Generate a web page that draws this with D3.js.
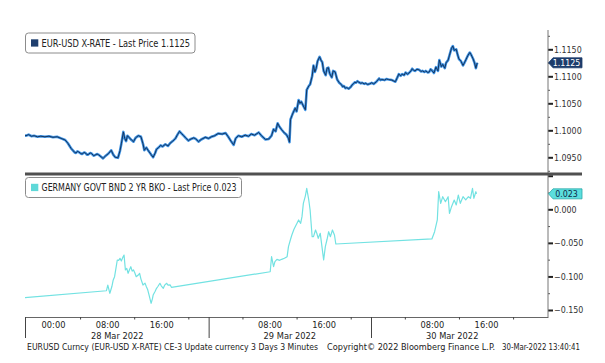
<!DOCTYPE html>
<html>
<head>
<meta charset="utf-8">
<script src="https://d3js.org/d3.v7.min.js"></script>
<style>
  body { margin: 0; background: #fff; }
  text { font-family: "DejaVu Sans Condensed", "DejaVu Sans", sans-serif; }
</style>
</head>
<body>
<div id="chart"></div>
<script>
// hours since 28 Mar 2022 00:00, EUR-USD price
var eurusd = [
  [-4.4, 1.0991], [-4.0, 1.0990], [-3.6, 1.0992], [-3.2, 1.0989], [-2.8, 1.0990], [-2.3, 1.0988],
  [-1.8, 1.0989], [-1.2, 1.0988], [-0.6, 1.0989], [0.0, 1.0987], [0.6, 1.0988], [1.2, 1.0985],
  [1.8, 1.0982], [2.2, 1.0976], [2.5, 1.0970], [2.7, 1.0966], [3.0, 1.0962], [3.2, 1.0959], [3.4, 1.0958],
  [3.6, 1.0961], [3.8, 1.0960], [4.1, 1.0957], [4.3, 1.0956], [4.6, 1.0959], [4.8, 1.0958], [5.0, 1.0955],
  [5.2, 1.0955], [5.5, 1.0958], [5.7, 1.0957], [6.0, 1.0953], [6.2, 1.0954], [6.5, 1.0956], [6.7, 1.0955],
  [7.1, 1.0951], [7.4, 1.0948], [7.8, 1.0953], [8.2, 1.0957], [8.6, 1.0963], [8.9, 1.0955],
  [9.2, 1.0950], [9.6, 1.0949], [9.9, 1.0962], [10.1, 1.0975], [10.4, 1.0997], [10.6, 1.0985],
  [10.8, 1.0980], [11.0, 1.0990], [11.3, 1.0986], [11.6, 1.0982], [11.9, 1.0979], [12.2, 1.0986],
  [12.6, 1.0990], [13.0, 1.0988], [13.3, 1.0975], [13.5, 1.0963], [13.8, 1.0968], [14.1, 1.0962],
  [14.5, 1.0955], [14.8, 1.0950], [15.1, 1.0958], [15.3, 1.0965], [15.6, 1.0968], [15.9, 1.0972],
  [16.2, 1.0970], [16.6, 1.0974], [17.0, 1.0971], [17.3, 1.0976], [17.7, 1.0980], [18.1, 1.0985],
  [18.4, 1.0992], [18.7, 1.0998], [19.0, 1.0994], [19.3, 1.0990], [19.6, 1.0986], [20.0, 1.0981],
  [20.4, 1.0984], [20.8, 1.0986], [21.1, 1.0984], [21.5, 1.0979], [21.9, 1.0983], [22.5, 1.0987],
  [23.0, 1.0985], [23.4, 1.0988], [23.9, 1.0990], [24.4, 1.0994], [25.0, 1.0993], [25.5, 1.0995],
  [25.9, 1.0988], [26.3, 1.0980], [26.7, 1.0973], [27.0, 1.0985], [27.4, 1.0990], [27.9, 1.0988],
  [28.4, 1.0991], [28.9, 1.0989], [29.3, 1.0993], [29.8, 1.0991], [30.4, 1.0996], [30.8, 1.0990],
  [31.4, 1.0983], [31.9, 1.0984], [32.3, 1.0990], [32.6, 1.1002], [32.9, 1.0998], [33.2, 1.1013],
  [33.5, 1.1006], [33.8, 1.1001], [34.2, 1.0995], [34.5, 1.0992], [34.8, 1.0985], [34.95, 1.0978],
  [35.1, 1.1020], [35.4, 1.1030], [35.8, 1.1041], [36.0, 1.1035], [36.3, 1.1056], [36.5, 1.1050],
  [36.7, 1.1053], [37.0, 1.1045], [37.3, 1.1038], [37.5, 1.1075], [37.8, 1.1082], [38.0, 1.1085],
  [38.3, 1.1100], [38.5, 1.1120], [38.7, 1.1108], [38.9, 1.1115], [39.1, 1.1128], [39.4, 1.1136],
  [39.6, 1.1130], [39.8, 1.1126], [40.0, 1.1110], [40.3, 1.1102], [40.5, 1.1115], [40.7, 1.1116],
  [40.9, 1.1105], [41.2, 1.1098], [41.4, 1.1110], [41.7, 1.1108], [42.0, 1.1094], [42.3, 1.1088],
  [42.6, 1.1085], [42.8, 1.1081], [43.0, 1.1082], [43.2, 1.1078], [43.4, 1.1079], [43.7, 1.1077],
  [44.0, 1.1080], [44.2, 1.1084], [44.4, 1.1086], [44.6, 1.1089], [44.8, 1.1088], [45.0, 1.1091],
  [45.2, 1.1089], [45.5, 1.1087], [45.7, 1.1088], [46.0, 1.1086], [46.2, 1.1087], [46.5, 1.1085],
  [46.8, 1.1086], [47.1, 1.1088], [47.4, 1.1086], [47.8, 1.1090], [48.0, 1.1093], [48.2, 1.1096],
  [48.4, 1.1093], [48.6, 1.1094], [49.0, 1.1093], [49.3, 1.1095], [49.6, 1.1094], [50.1, 1.1093],
  [50.4, 1.1091], [50.6, 1.1090], [50.9, 1.1098], [51.1, 1.1104], [51.4, 1.1101], [51.6, 1.1104],
  [51.9, 1.1102], [52.1, 1.1107], [52.4, 1.1104], [52.6, 1.1106], [52.9, 1.1110], [53.1, 1.1114],
  [53.3, 1.1111], [53.5, 1.1110], [53.8, 1.1113], [54.1, 1.1112], [54.4, 1.1109], [54.6, 1.1110],
  [54.9, 1.1108], [55.1, 1.1110], [55.4, 1.1107], [55.6, 1.1108], [55.8, 1.1113], [56.0, 1.1111],
  [56.3, 1.1106], [56.6, 1.1117], [56.9, 1.1110], [57.1, 1.1130], [57.4, 1.1118], [57.6, 1.1122],
  [57.9, 1.1115], [58.1, 1.1125], [58.4, 1.1130], [58.6, 1.1139], [58.9, 1.1152], [59.1, 1.1156],
  [59.3, 1.1148], [59.6, 1.1150], [59.8, 1.1140], [60.0, 1.1132], [60.3, 1.1128], [60.6, 1.1120],
  [60.8, 1.1125], [61.0, 1.1130], [61.3, 1.1138], [61.6, 1.1144], [61.8, 1.1140], [62.1, 1.1132],
  [62.3, 1.1125], [62.5, 1.1115], [62.7, 1.1125]
];

// hours since 28 Mar 2022 00:00, German 2Y yield
var bund = [
  [-4.4, -0.1317], [7.9, -0.1213], [8.1, -0.1128], [8.4, -0.1251], [8.7, -0.1150], [8.9, -0.1053],
  [9.1, -0.1004], [9.3, -0.0880], [9.5, -0.0755], [9.7, -0.0760], [9.9, -0.0730], [10.1, -0.0770],
  [10.3, -0.0720], [10.5, -0.0681], [10.7, -0.0904], [10.9, -0.0880], [11.1, -0.0953], [11.3, -0.0900],
  [11.5, -0.0855], [11.7, -0.0920], [11.9, -0.0904], [12.1, -0.0950], [12.3, -0.1004], [12.6, -0.0980],
  [12.8, -0.0953], [13.0, -0.1040], [13.3, -0.1128], [13.6, -0.1100], [13.8, -0.1153], [14.0, -0.1200],
  [14.2, -0.1277], [14.5, -0.1400], [14.7, -0.1330], [14.8, -0.1277], [15.1, -0.1220], [15.3, -0.1177],
  [15.5, -0.1150], [15.8, -0.1102], [16.0, -0.1140], [16.3, -0.1177], [16.5, -0.1130], [16.8, -0.1102],
  [17.0, -0.1130], [17.3, -0.1125], [17.5, -0.1162], [32.1, -0.0930], [32.3, -0.0706], [32.6, -0.0855],
  [32.8, -0.0780], [33.1, -0.0745], [33.5, -0.0760], [33.8, -0.0745], [34.2, -0.0730], [34.6, -0.0706],
  [34.8, -0.0557], [35.1, -0.0450], [35.3, -0.0383], [35.6, -0.0300], [35.8, -0.0259], [36.1, -0.0200],
  [36.3, -0.0159], [36.6, -0.0209], [36.8, -0.0110], [37.0, 0.0089], [37.3, 0.0200], [37.5, 0.0313],
  [37.8, 0.0139], [38.0, -0.0010], [38.3, -0.0408], [38.5, -0.0408], [38.8, -0.0308], [39.0, -0.0360],
  [39.2, -0.0432], [39.5, -0.0358], [39.75, -0.0557], [40.0, -0.0755], [40.25, -0.0557], [40.5, -0.0450],
  [40.74, -0.0334], [41.0, -0.0408], [41.3, -0.0308], [41.6, -0.0383], [41.8, -0.0517], [56.0, -0.0442],
  [56.4, -0.0334], [56.8, -0.0159], [57.0, 0.0262], [57.3, 0.0089], [57.6, 0.0188], [57.8, 0.0150],
  [58.0, 0.0113], [58.4, 0.0188], [58.6, -0.0060], [58.9, 0.0039], [59.3, 0.0138], [59.6, 0.0064],
  [59.9, 0.0213], [60.2, 0.0089], [60.6, 0.0188], [61.0, 0.0139], [61.4, 0.0188], [61.7, 0.0164],
  [62.0, 0.0313], [62.2, 0.0164], [62.5, 0.0262], [62.6, 0.0230]
];

var fxTicks = [1.0950, 1.1000, 1.1050, 1.1100, 1.1150];
var fxMinor = [1.0925, 1.0975, 1.1025, 1.1075, 1.1125, 1.1175];
var bundTicks = [-0.150, -0.100, -0.050, 0.000, 0.050];
var bundMinor = [-0.125, -0.075, -0.025, 0.025];
var hourTicks = [0, 8, 16, 32, 40, 56, 64];
var hourLabels = ["00:00", "08:00", "16:00", "08:00", "16:00", "08:00", "16:00"];
var hourMinor = [4, 12, 20, 28, 36, 44, 52, 60, 68];
var dayBreaks = [-4.14, 23, 47];
var dayLabelPos = [9.5, 35, 59];
var dayLabels = ["28 Mar 2022", "29 Mar 2022", "30 Mar 2022"];
var fxLast = 1.1125, bundLast = 0.023;

var W = 605, H = 363;
var left = 25, axisX = 548;

var svg = d3.select("#chart").append("svg")
  .attr("width", W).attr("height", H);

var x = d3.scaleLinear().domain([-4.14, 73.16]).range([left, axisX]);
var yTop = d3.scaleLinear().domain([1.0950, 1.1150]).range([157.3, 49.3]);
var yBot = d3.scaleLinear().domain([-0.15, 0]).range([310, 209.3]);

// clip areas for the two panels
var defs = svg.append("defs");
defs.append("clipPath").attr("id", "cTop").append("rect")
  .attr("x", left).attr("y", 30).attr("width", axisX - left).attr("height", 142);
defs.append("clipPath").attr("id", "cBot").append("rect")
  .attr("x", left).attr("y", 176).attr("width", axisX - left).attr("height", 140);

// right value axes
function rightAxis(scale, major, minor, fmt) {
  var g = svg.append("g").attr("transform", "translate(" + axisX + ",0)");
  g.call(d3.axisRight(scale).tickValues(minor).tickSize(2).tickFormat(""))
    .select(".domain").remove();
  var m = svg.append("g").attr("transform", "translate(" + axisX + ",0)");
  m.call(d3.axisRight(scale).tickValues(major).tickSize(5).tickPadding(1).tickFormat(fmt))
    .select(".domain").remove();
  g.selectAll("line").attr("stroke", "#555");
  m.selectAll("line").attr("stroke", "#222").attr("stroke-width", 2);
  m.selectAll("text").attr("fill", "#333").style("font-size", "8.8px");
  return m;
}
rightAxis(yTop, fxTicks, fxMinor, d3.format(".4f"));
var bAx = rightAxis(yBot, bundTicks, bundMinor, d3.format(".3f"));
bAx.selectAll(".tick").filter(function(d) { return d > 0.03; }).select("text").remove();

// lines
var fxLine = d3.line().x(function(d) { return x(d[0]); }).y(function(d) { return yTop(d[1]); });
var bdLine = d3.line().x(function(d) { return x(d[0]); }).y(function(d) { return yBot(d[1]); });

var gTop = svg.append("g").attr("clip-path", "url(#cTop)");
gTop.append("path").datum(eurusd).attr("d", fxLine)
  .attr("fill", "none").attr("stroke", "#3f93e4").attr("stroke-width", 2.6).attr("stroke-linejoin", "round");
gTop.append("path").datum(eurusd).attr("d", fxLine)
  .attr("fill", "none").attr("stroke", "#14355f").attr("stroke-width", 1).attr("stroke-linejoin", "round");

svg.append("g").attr("clip-path", "url(#cBot)")
  .append("path").datum(bund).attr("d", bdLine)
  .attr("fill", "none").attr("stroke", "#72e2e2").attr("stroke-width", 1.2).attr("stroke-linejoin", "round");

// frame
svg.append("line").attr("x1", axisX).attr("x2", axisX).attr("y1", 30).attr("y2", 317)
  .attr("stroke", "#777").attr("stroke-width", 1);
svg.append("rect").attr("x", left).attr("y", 172.5).attr("width", 582 - left).attr("height", 3)
  .attr("fill", "#505050");

// bottom time axis
var xAxisY = 317;
var gx = svg.append("g").attr("transform", "translate(0," + xAxisY + ")");
gx.call(d3.axisBottom(x).tickValues(hourTicks).tickSize(0).tickPadding(4)
  .tickFormat(function(d, i) { return hourLabels[i]; }));
gx.select(".domain").attr("stroke", "#666");
gx.selectAll("text").attr("fill", "#222").style("font-size", "9.2px");

var gxm = svg.append("g").attr("transform", "translate(0," + xAxisY + ")");
gxm.call(d3.axisBottom(x).tickValues(hourMinor).tickSize(2.5).tickFormat(""))
  .select(".domain").remove();
gxm.selectAll("line").attr("stroke", "#444");

var gxd = svg.append("g").attr("transform", "translate(0," + xAxisY + ")");
gxd.call(d3.axisBottom(x).tickValues(dayBreaks).tickSize(21).tickFormat(""))
  .select(".domain").remove();
gxd.selectAll("line").attr("stroke", "#444");

svg.selectAll(".dayLbl").data(dayLabels).enter().append("text")
  .attr("class", "dayLbl")
  .attr("x", function(d, i) { return x(dayLabelPos[i]); })
  .attr("y", 338.5)
  .attr("text-anchor", "middle")
  .attr("fill", "#222").style("font-size", "9.2px")
  .text(function(d) { return d; });

// legends
function legend(y0, w, color, label, tl) {
  svg.append("rect").attr("x", left + 0.5).attr("y", y0).attr("width", w).attr("height", 20)
    .attr("rx", 3).attr("fill", "#fff").attr("stroke", "#8c8c8c");
  svg.append("rect").attr("x", 31).attr("y", y0 + 6.3).attr("width", 7.3).attr("height", 7.3)
    .attr("fill", color);
  svg.append("text").attr("x", 41.5).attr("y", y0 + 13.7)
    .attr("textLength", tl).attr("lengthAdjust", "spacingAndGlyphs")
    .attr("fill", "#222").style("font-size", "9.6px").text(label);
}
legend(33, 169.5, "#1f3f6e", "EUR-USD X-RATE - Last Price 1.1125", 148.5);
legend(177.5, 216, "#5fd8d8", "GERMANY GOVT BND 2 YR BKO - Last Price 0.023", 195);

// last price tags
function tag(yc, fill, stroke, txtColor, label) {
  svg.append("path")
    .attr("d", "M" + (axisX + 0.5) + "," + yc + " L" + (axisX + 5) + "," + (yc - 5) +
      " L582,"+ (yc - 5) + " L582," + (yc + 5) + " L" + (axisX + 5) + "," + (yc + 5) + " Z")
    .attr("fill", fill).attr("stroke", stroke).attr("stroke-width", 0.8);
  svg.append("text").attr("x", 566.5).attr("y", yc + 3.2).attr("text-anchor", "middle")
    .attr("fill", txtColor).style("font-size", "8.8px").text(label);
}
tag(yTop(fxLast), "#1d3c6b", "#1d3c6b", "#fff", "1.1125");
tag(yBot(bundLast), "#5cdede", "#2aa8a8", "#0d2a4a", "0.023");

// footer
var foot = [
  ["EURUSD Curncy (EUR-USD X-RATE) CE-3 Update currency 3 Days 3 Minutes", 27, 291],
  ["Copyright\u00a9 2022 Bloomberg Finance L.P.", 327, 168],
  ["30-Mar-2022 13:40:41", 502, 78]
];
svg.selectAll(".foot").data(foot).enter().append("text")
  .attr("class", "foot")
  .attr("x", function(d) { return d[1]; })
  .attr("y", 349.5)
  .attr("textLength", function(d) { return d[2]; })
  .attr("lengthAdjust", "spacingAndGlyphs")
  .attr("fill", "#222").style("font-size", "8.5px")
  .text(function(d) { return d[0]; });
</script>
</body>
</html>
